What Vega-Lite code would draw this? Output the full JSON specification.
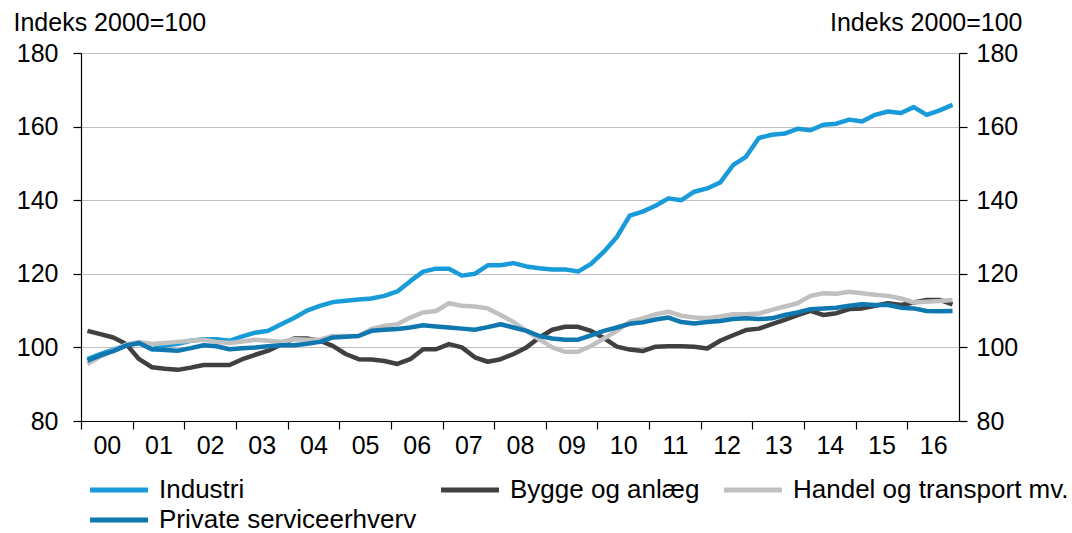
{
  "$schema": "https://vega.github.io/schema/vega-lite/v6.json",
  "width": 878,
  "height": 368,
  "autosize": {"type": "none"},
  "padding": {"left": 81, "top": 53, "right": 113, "bottom": 112},
  "background": "white",
  "config": {
    "view": {"stroke": null},
    "font": "Liberation Sans",
    "axis": {
      "labelFont": "Liberation Sans",
      "titleFont": "Liberation Sans",
      "labelFontSize": 25,
      "titleFontSize": 25,
      "labelColor": "#000000",
      "titleColor": "#000000",
      "titleFontWeight": "normal",
      "domainColor": "#000000",
      "tickColor": "#000000",
      "domainWidth": 1.2,
      "tickWidth": 1.2,
      "tickSize": 8
    }
  },
  "data": {
    "values": [
      {"t": 2000.125, "ind": 96.8, "byg": 104.5, "han": 95.5, "pri": 96.4},
      {"t": 2000.375, "ind": 98.2, "byg": 103.6, "han": 97.5, "pri": 97.8},
      {"t": 2000.625, "ind": 99.4, "byg": 102.7, "han": 99.2, "pri": 99.0},
      {"t": 2000.875, "ind": 100.6, "byg": 100.9, "han": 100.8, "pri": 100.5},
      {"t": 2001.125, "ind": 101.2, "byg": 96.8, "han": 101.5, "pri": 101.2},
      {"t": 2001.375, "ind": 99.5, "byg": 94.6, "han": 100.9, "pri": 99.5},
      {"t": 2001.625, "ind": 100.5, "byg": 94.2, "han": 101.2, "pri": 99.3},
      {"t": 2001.875, "ind": 101.0, "byg": 93.9, "han": 101.5, "pri": 99.1},
      {"t": 2002.125, "ind": 101.8, "byg": 94.5, "han": 101.8, "pri": 99.8},
      {"t": 2002.375, "ind": 102.2, "byg": 95.2, "han": 102.1, "pri": 100.6},
      {"t": 2002.625, "ind": 102.2, "byg": 95.2, "han": 101.5, "pri": 100.3},
      {"t": 2002.875, "ind": 101.8, "byg": 95.2, "han": 101.2, "pri": 99.5},
      {"t": 2003.125, "ind": 103.0, "byg": 96.8, "han": 101.6, "pri": 99.8},
      {"t": 2003.375, "ind": 104.0, "byg": 98.0, "han": 102.1, "pri": 100.0},
      {"t": 2003.625, "ind": 104.5, "byg": 99.1, "han": 101.8, "pri": 100.3},
      {"t": 2003.875, "ind": 106.3, "byg": 100.8, "han": 101.5, "pri": 100.6},
      {"t": 2004.125, "ind": 108.0, "byg": 102.4, "han": 102.2, "pri": 100.6},
      {"t": 2004.375, "ind": 110.0, "byg": 102.4, "han": 102.1, "pri": 101.0},
      {"t": 2004.625, "ind": 111.3, "byg": 101.8, "han": 102.1, "pri": 101.5},
      {"t": 2004.875, "ind": 112.3, "byg": 100.4, "han": 103.1, "pri": 102.7},
      {"t": 2005.125, "ind": 112.7, "byg": 98.2, "han": 103.1, "pri": 102.9},
      {"t": 2005.375, "ind": 113.0, "byg": 96.8, "han": 103.1, "pri": 103.1},
      {"t": 2005.625, "ind": 113.3, "byg": 96.7, "han": 105.0, "pri": 104.5},
      {"t": 2005.875, "ind": 114.0, "byg": 96.3, "han": 105.8, "pri": 104.8},
      {"t": 2006.125, "ind": 115.2, "byg": 95.5, "han": 106.3, "pri": 105.0},
      {"t": 2006.375, "ind": 118.0, "byg": 96.8, "han": 108.1, "pri": 105.4},
      {"t": 2006.625, "ind": 120.6, "byg": 99.5, "han": 109.5, "pri": 106.0},
      {"t": 2006.875, "ind": 121.4, "byg": 99.5, "han": 109.9, "pri": 105.7},
      {"t": 2007.125, "ind": 121.4, "byg": 100.9, "han": 112.0, "pri": 105.4},
      {"t": 2007.375, "ind": 119.5, "byg": 100.0, "han": 111.3, "pri": 105.1},
      {"t": 2007.625, "ind": 120.0, "byg": 97.3, "han": 111.1, "pri": 104.8},
      {"t": 2007.875, "ind": 122.3, "byg": 96.1, "han": 110.6, "pri": 105.5},
      {"t": 2008.125, "ind": 122.3, "byg": 96.8, "han": 108.8, "pri": 106.3},
      {"t": 2008.375, "ind": 122.9, "byg": 98.2, "han": 106.9, "pri": 105.4},
      {"t": 2008.625, "ind": 122.0, "byg": 100.0, "han": 104.5, "pri": 104.5},
      {"t": 2008.875, "ind": 121.5, "byg": 102.7, "han": 102.2, "pri": 103.1},
      {"t": 2009.125, "ind": 121.2, "byg": 104.8, "han": 100.0, "pri": 102.4},
      {"t": 2009.375, "ind": 121.2, "byg": 105.6, "han": 98.8, "pri": 102.1},
      {"t": 2009.625, "ind": 120.6, "byg": 105.6, "han": 98.8, "pri": 102.1},
      {"t": 2009.875, "ind": 122.7, "byg": 104.5, "han": 100.4, "pri": 103.3},
      {"t": 2010.125, "ind": 126.0, "byg": 102.5, "han": 102.4, "pri": 104.5},
      {"t": 2010.375, "ind": 130.0, "byg": 100.2, "han": 104.5, "pri": 105.4},
      {"t": 2010.625, "ind": 135.8, "byg": 99.4, "han": 107.0, "pri": 106.4},
      {"t": 2010.875, "ind": 136.9, "byg": 99.0, "han": 107.9, "pri": 106.8},
      {"t": 2011.125, "ind": 138.5, "byg": 100.2, "han": 109.0, "pri": 107.6},
      {"t": 2011.375, "ind": 140.5, "byg": 100.3, "han": 109.7, "pri": 108.1},
      {"t": 2011.625, "ind": 140.0, "byg": 100.3, "han": 108.6, "pri": 106.9},
      {"t": 2011.875, "ind": 142.3, "byg": 100.2, "han": 108.1, "pri": 106.5},
      {"t": 2012.125, "ind": 143.2, "byg": 99.7, "han": 107.9, "pri": 106.9},
      {"t": 2012.375, "ind": 144.8, "byg": 101.8, "han": 108.4, "pri": 107.2},
      {"t": 2012.625, "ind": 149.5, "byg": 103.3, "han": 109.0, "pri": 107.7},
      {"t": 2012.875, "ind": 151.8, "byg": 104.7, "han": 109.0, "pri": 107.9},
      {"t": 2013.125, "ind": 156.9, "byg": 105.1, "han": 109.2, "pri": 107.7},
      {"t": 2013.375, "ind": 157.8, "byg": 106.3, "han": 110.2, "pri": 107.9},
      {"t": 2013.625, "ind": 158.1, "byg": 107.5, "han": 111.1, "pri": 108.8},
      {"t": 2013.875, "ind": 159.4, "byg": 108.8, "han": 112.0, "pri": 109.5},
      {"t": 2014.125, "ind": 159.0, "byg": 109.9, "han": 114.0, "pri": 110.4},
      {"t": 2014.375, "ind": 160.5, "byg": 108.8, "han": 114.7, "pri": 110.6},
      {"t": 2014.625, "ind": 160.8, "byg": 109.3, "han": 114.6, "pri": 110.8},
      {"t": 2014.875, "ind": 161.9, "byg": 110.4, "han": 115.1, "pri": 111.3},
      {"t": 2015.125, "ind": 161.4, "byg": 110.6, "han": 114.7, "pri": 111.7},
      {"t": 2015.375, "ind": 163.2, "byg": 111.3, "han": 114.3, "pri": 111.5},
      {"t": 2015.625, "ind": 164.1, "byg": 112.0, "han": 114.0, "pri": 111.5},
      {"t": 2015.875, "ind": 163.7, "byg": 111.5, "han": 113.3, "pri": 110.8},
      {"t": 2016.125, "ind": 165.3, "byg": 112.2, "han": 112.2, "pri": 110.6},
      {"t": 2016.375, "ind": 163.2, "byg": 112.9, "han": 112.4, "pri": 109.9},
      {"t": 2016.625, "ind": 164.4, "byg": 112.9, "han": 112.6, "pri": 109.8},
      {"t": 2016.875, "ind": 165.9, "byg": 111.7, "han": 112.9, "pri": 109.9}
    ]
  },
  "transform": [
    {"fold": ["ind", "byg", "han", "pri"], "as": ["serie", "v"]}
  ],
  "layer": [
    {
      "mark": {"type": "line", "strokeWidth": 4.5, "strokeJoin": "round", "strokeCap": "butt"},
      "encoding": {
        "x": {
          "field": "t", "type": "quantitative",
          "scale": {"domain": [2000, 2017], "nice": false, "zero": false},
          "axis": {
            "title": null,
            "values": [2000, 2001, 2002, 2003, 2004, 2005, 2006, 2007, 2008, 2009, 2010, 2011, 2012, 2013, 2014, 2015, 2016],
            "labelExpr": "slice(toString(datum.value), 2)",
            "labelOffset": 25.8,
            "labelFlush": false,
            "labelOverlap": false,
            "labelPadding": 4,
            "grid": false
          }
        },
        "y": {
          "field": "v", "type": "quantitative",
          "scale": {"domain": [80, 180], "nice": false, "zero": false},
          "axis": {
            "orient": "left",
            "values": [80, 100, 120, 140, 160, 180],
            "grid": true,
            "gridColor": "#c0c0c0",
            "gridWidth": 1.2,
            "labelPadding": 15,
            "title": "Indeks 2000=100",
            "titleAngle": 0,
            "titleAlign": "left",
            "titleBaseline": "alphabetic",
            "titleX": -68,
            "titleY": -23
          }
        },
        "color": {
          "field": "serie", "type": "nominal",
          "scale": {
            "domain": ["ind", "han", "byg", "pri"],
            "range": ["#189bd8", "#c0c0c0", "#404040", "#0f78b1"]
          },
          "legend": {
            "title": null,
            "orient": "none",
            "legendX": 6.5,
            "legendY": 424,
            "columns": 3,
            "columnPadding": 22,
            "rowPadding": 4,
            "padding": 0,
            "clipHeight": 26,
            "symbolType": "stroke",
            "symbolSize": 3364,
            "symbolStrokeWidth": 5,
            "labelFont": "Liberation Sans",
            "labelFontSize": 26,
            "labelColor": "#000000",
            "labelOffset": 8.5,
            "labelLimit": 500,
            "labelExpr": "datum.label == 'ind' ? 'Industri' : datum.label == 'byg' ? 'Bygge og anlæg' : datum.label == 'han' ? 'Handel og transport mv.' : 'Private serviceerhverv'"
          }
        }
      }
    },
    {
      "mark": {"type": "line", "opacity": 0},
      "encoding": {
        "x": {"field": "t", "type": "quantitative", "scale": {"domain": [2000, 2017], "nice": false, "zero": false}},
        "y": {
          "field": "v", "type": "quantitative",
          "scale": {"domain": [80, 180], "nice": false, "zero": false},
          "axis": {
            "orient": "right",
            "values": [80, 100, 120, 140, 160, 180],
            "grid": false,
            "labelPadding": 9,
            "title": "Indeks 2000=100",
            "titleAngle": 0,
            "titleAlign": "right",
            "titleBaseline": "alphabetic",
            "titleX": 63,
            "titleY": -23
          }
        }
      }
    }
  ],
  "resolve": {"scale": {"y": "independent"}}
}
